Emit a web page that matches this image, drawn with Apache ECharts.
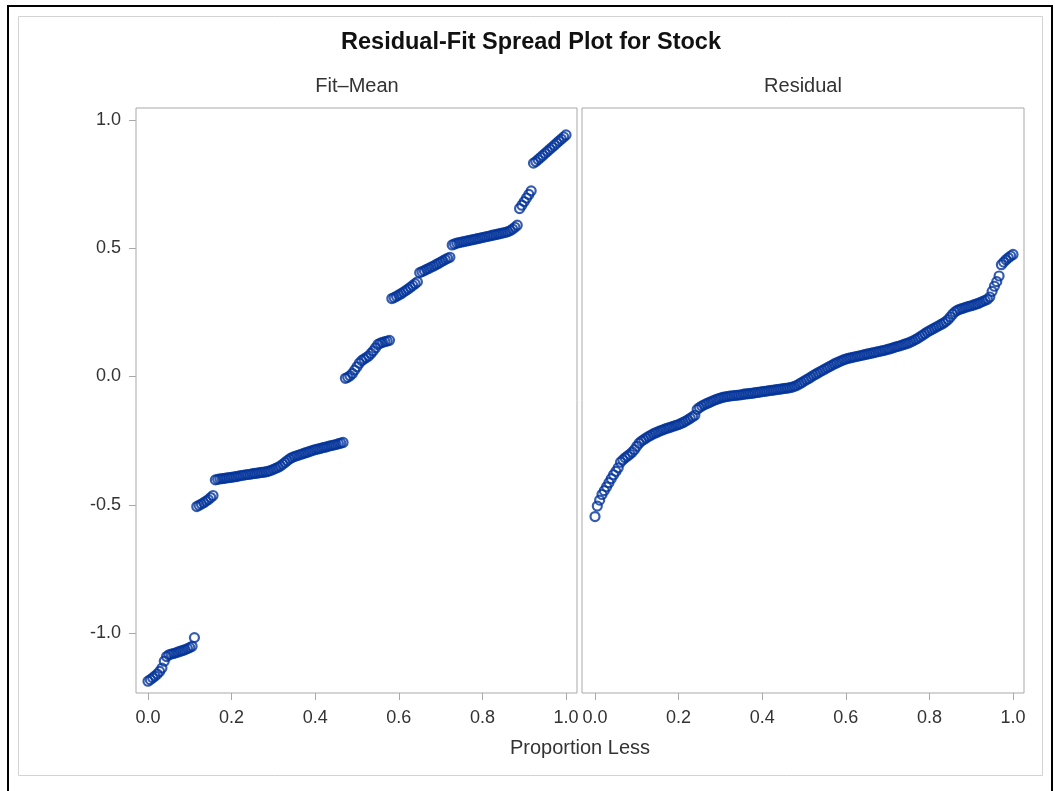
<!DOCTYPE html>
<html>
<head>
<meta charset="utf-8">
<script src="https://cdn.jsdelivr.net/npm/echarts@6/dist/echarts.min.js"></script>
<style>
  html, body { margin: 0; padding: 0; background: #ffffff; }
  #chart { width: 1055px; height: 791px; }
</style>
</head>
<body>
<div id="chart"></div>
<script>
// Sorted centred fitted values (Fit - Mean), smallest to largest
const fitMean = [
  -1.188, -1.182, -1.175, -1.168, -1.160, -1.150, -1.137, -1.110, -1.092, -1.085,
  -1.082, -1.080, -1.077, -1.074, -1.071, -1.068, -1.065, -1.061, -1.057, -1.052,
  -1.018, -0.507, -0.502, -0.497, -0.492, -0.486, -0.480, -0.472, -0.464, -0.403,
  -0.401, -0.399, -0.398, -0.397, -0.395, -0.394, -0.393, -0.391, -0.390, -0.388,
  -0.386, -0.385, -0.383, -0.382, -0.381, -0.379, -0.378, -0.377, -0.375, -0.374,
  -0.373, -0.371, -0.369, -0.366, -0.362, -0.358, -0.354, -0.349, -0.342, -0.335,
  -0.328, -0.321, -0.316, -0.312, -0.309, -0.306, -0.303, -0.300, -0.297, -0.294,
  -0.291, -0.288, -0.285, -0.283, -0.281, -0.278, -0.276, -0.274, -0.271, -0.269,
  -0.267, -0.265, -0.262, -0.260, -0.257, -0.007, -0.003, 0.003, 0.012, 0.025,
  0.038, 0.052, 0.062, 0.068, 0.074, 0.080, 0.090, 0.100, 0.112, 0.125,
  0.130, 0.133, 0.136, 0.138, 0.141, 0.304, 0.308, 0.313, 0.318, 0.323,
  0.329, 0.335, 0.341, 0.348, 0.355, 0.362, 0.369, 0.405, 0.409, 0.413,
  0.418, 0.422, 0.427, 0.431, 0.436, 0.441, 0.446, 0.451, 0.456, 0.461,
  0.465, 0.513, 0.517, 0.520, 0.522, 0.524, 0.526, 0.528, 0.530, 0.532,
  0.534, 0.536, 0.538, 0.540, 0.542, 0.544, 0.546, 0.548, 0.550, 0.552,
  0.554, 0.556, 0.558, 0.560, 0.562, 0.565, 0.569, 0.575, 0.582, 0.590,
  0.655, 0.668, 0.682, 0.696, 0.710, 0.724, 0.832, 0.838, 0.846, 0.854,
  0.862, 0.870, 0.878, 0.886, 0.894, 0.902, 0.910, 0.918, 0.926, 0.934,
  0.942
];

// Sorted residuals, smallest to largest
const residual = [
  -0.546, -0.505, -0.482, -0.460, -0.445, -0.430, -0.414, -0.398, -0.383, -0.370,
  -0.356, -0.334, -0.325, -0.317, -0.310, -0.303, -0.295, -0.285, -0.272, -0.260,
  -0.252, -0.246, -0.240, -0.234, -0.229, -0.224, -0.220, -0.216, -0.212, -0.209,
  -0.205, -0.202, -0.199, -0.196, -0.193, -0.190, -0.187, -0.183, -0.179, -0.174,
  -0.169, -0.163, -0.157, -0.151, -0.128, -0.121, -0.115, -0.110, -0.106, -0.102,
  -0.098, -0.094, -0.090, -0.087, -0.084, -0.081, -0.079, -0.078, -0.076, -0.075,
  -0.074, -0.073, -0.072, -0.071, -0.069, -0.068, -0.067, -0.066, -0.065, -0.063,
  -0.062, -0.061, -0.059, -0.058, -0.057, -0.055, -0.054, -0.053, -0.051, -0.050,
  -0.049, -0.047, -0.046, -0.045, -0.043, -0.041, -0.038, -0.034, -0.029, -0.024,
  -0.018, -0.013, -0.008, -0.002, 0.004, 0.009, 0.014, 0.019, 0.024, 0.029,
  0.034, 0.039, 0.044, 0.049, 0.053, 0.057, 0.061, 0.065, 0.068, 0.071,
  0.073, 0.075, 0.077, 0.079, 0.081, 0.083, 0.085, 0.087, 0.089, 0.091,
  0.093, 0.095, 0.097, 0.099, 0.101, 0.103, 0.106, 0.108, 0.111, 0.114,
  0.117, 0.119, 0.122, 0.125, 0.128, 0.131, 0.135, 0.139, 0.144, 0.149,
  0.155, 0.161, 0.167, 0.173, 0.178, 0.183, 0.188, 0.193, 0.198, 0.203,
  0.208, 0.214, 0.222, 0.232, 0.243, 0.252, 0.258, 0.262, 0.265, 0.268,
  0.271, 0.274, 0.276, 0.279, 0.282, 0.285, 0.289, 0.293, 0.297, 0.301,
  0.310, 0.332, 0.352, 0.370, 0.392, 0.436, 0.446, 0.455, 0.463, 0.470,
  0.476
];

const xTicks = [0.0, 0.2, 0.4, 0.6, 0.8, 1.0];
const yTicks = [-1.0, -0.5, 0.0, 0.5, 1.0];
const panelTitles = ['Fit\u2013Mean', 'Residual'];
const chartTitle = 'Residual-Fit Spread Plot for Stock';
const xAxisTitle = 'Proportion Less';

// Pair each sorted value with its proportion-less rank position
function rankPairs(values) {
  const n = values.length;
  return values.map((v, i) => [i / (n - 1), v]);
}

const FONT = '"Liberation Sans", Arial, Helvetica, sans-serif';
const MARK = '#03339a';
const FRAME = '#a9a9a9';
const TEXT = '#333333';

const Y_MIN = -1.234, Y_MAX = 1.047;

function xAxisFor(gridIndex, min) {
  return {
    type: 'value', gridIndex, min, max: 1.0263,
    splitLine: { show: false },
    axisLine: { show: false, onZero: false },
    axisTick: { show: true, inside: false, length: 7, customValues: xTicks,
                lineStyle: { color: FRAME, width: 1 } },
    axisLabel: { show: true, customValues: xTicks, margin: 16,
                 formatter: v => v.toFixed(1),
                 fontFamily: FONT, fontSize: 18, color: TEXT }
  };
}

// hollow circle markers; dense runs merge into a solid band
const markerStyle = { color: 'rgba(0,0,0,0)', borderColor: MARK, borderWidth: 2.2 };

const chart = echarts.init(document.getElementById('chart'), null, { renderer: 'canvas' });

chart.setOption({
  backgroundColor: '#ffffff',
  animation: false,
  grid: [
    { left: 136, top: 108, width: 441, height: 585, show: true,
      borderColor: FRAME, borderWidth: 1, backgroundColor: '#ffffff', containLabel: false },
    { left: 582, top: 108, width: 442, height: 585, show: true,
      borderColor: FRAME, borderWidth: 1, backgroundColor: '#ffffff', containLabel: false }
  ],
  xAxis: [ xAxisFor(0, -0.0287), xAxisFor(1, -0.0311) ],
  yAxis: [
    { type: 'value', gridIndex: 0, min: Y_MIN, max: Y_MAX,
      splitLine: { show: false }, axisLine: { show: false, onZero: false },
      axisTick: { show: true, length: 7, customValues: yTicks,
                  lineStyle: { color: FRAME, width: 1 } },
      axisLabel: { show: true, customValues: yTicks, margin: 15,
                   formatter: v => v.toFixed(1),
                   fontFamily: FONT, fontSize: 18, color: TEXT } },
    { type: 'value', gridIndex: 1, min: Y_MIN, max: Y_MAX,
      splitLine: { show: false }, axisLine: { show: false, onZero: false },
      axisTick: { show: false }, axisLabel: { show: false } }
  ],
  series: [
    { name: panelTitles[0], type: 'scatter', xAxisIndex: 0, yAxisIndex: 0,
      data: rankPairs(fitMean), symbol: 'circle', symbolSize: 9,
      itemStyle: markerStyle },
    { name: panelTitles[1], type: 'scatter', xAxisIndex: 1, yAxisIndex: 1,
      data: rankPairs(residual), symbol: 'circle', symbolSize: 9,
      itemStyle: markerStyle }
  ],
  graphic: [
    { type: 'rect', silent: true, z: -10,
      shape: { x: 8, y: 6, width: 1044, height: 800 },
      style: { fill: null, stroke: '#000000', lineWidth: 2 } },
    { type: 'rect', silent: true, z: -9,
      shape: { x: 18.5, y: 16.5, width: 1024, height: 759 },
      style: { fill: null, stroke: '#d3d3d3', lineWidth: 1 } },
    { type: 'text', x: 531, y: 43, silent: true,
      style: { text: chartTitle, fontFamily: FONT, fontWeight: 'bold', fontSize: 23.5,
               fill: '#111111', align: 'center', verticalAlign: 'middle' } },
    { type: 'text', x: 357, y: 86, silent: true,
      style: { text: panelTitles[0], fontFamily: FONT, fontSize: 20,
               fill: TEXT, align: 'center', verticalAlign: 'middle' } },
    { type: 'text', x: 803, y: 86, silent: true,
      style: { text: panelTitles[1], fontFamily: FONT, fontSize: 20,
               fill: TEXT, align: 'center', verticalAlign: 'middle' } },
    { type: 'text', x: 580, y: 748, silent: true,
      style: { text: xAxisTitle, fontFamily: FONT, fontSize: 20,
               fill: TEXT, align: 'center', verticalAlign: 'middle' } }
  ]
});
</script>
</body>
</html>
